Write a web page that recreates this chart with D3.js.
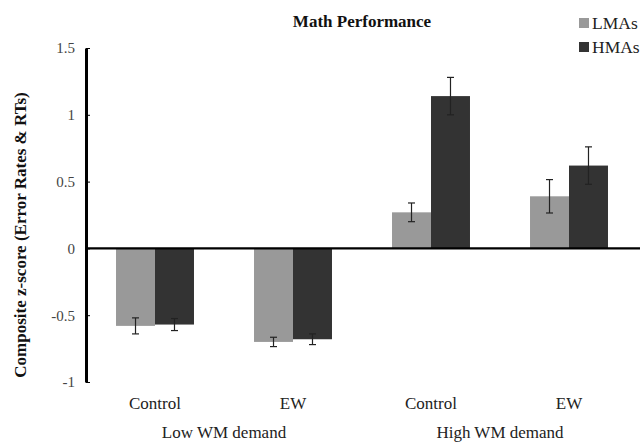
<!DOCTYPE html>
<html><head><meta charset="utf-8">
<script src="https://cdn.jsdelivr.net/npm/d3@7"></script>
<style>body{margin:0;background:#fff}svg{display:block}</style>
</head><body>
<script>
const categories = ["Control", "EW", "Control", "EW"];
const groups = ["Low WM demand", "High WM demand"];
const series = ["LMAs", "HMAs"];
const lmaValues = [-0.58, -0.70, 0.27, 0.39];
const hmaValues = [-0.57, -0.68, 1.14, 0.62];
const lmaErrors = [0.06, 0.035, 0.07, 0.125];
const hmaErrors = [0.045, 0.04, 0.14, 0.14];
const yTicks = [-1, -0.5, 0, 0.5, 1, 1.5];
const colors = ["#999999", "#333333"];

const W = 641, H = 442;
const FF = '"Liberation Serif"';
const svg = d3.select("body").append("svg").attr("width", W).attr("height", H);

const x = d3.scaleBand().domain(d3.range(categories.length)).range([86, 638]).paddingInner(0.435).paddingOuter(0.2175);
const y = d3.scaleLinear().domain([-1, 1.5]).range([382, 48]);
const xs = d3.scaleBand().domain(series).range([0, x.bandwidth()]);

// title
svg.append("text").attr("x", 362).attr("y", 27).attr("text-anchor", "middle").style("font-family", FF)
  .attr("font-weight", "bold").attr("font-size", 17).attr("fill", "#111").text("Math Performance");

// bars
const data = categories.map((c, i) => [
  {s: "LMAs", v: lmaValues[i], e: lmaErrors[i], i},
  {s: "HMAs", v: hmaValues[i], e: hmaErrors[i], i}
]).flat();

svg.append("g").selectAll("rect").data(data).join("rect")
  .attr("x", d => x(d.i) + xs(d.s))
  .attr("width", xs.bandwidth())
  .attr("y", d => y(Math.max(0, d.v)))
  .attr("height", d => Math.abs(y(d.v) - y(0)))
  .attr("fill", d => colors[series.indexOf(d.s)]);

// error bars
const eg = svg.append("g").attr("stroke", "#222").attr("stroke-width", 1.2);
data.forEach(d => {
  const cx = x(d.i) + xs(d.s) + xs.bandwidth() / 2;
  eg.append("line").attr("x1", cx).attr("x2", cx).attr("y1", y(d.v + d.e)).attr("y2", y(d.v - d.e));
  eg.append("line").attr("x1", cx - 3.5).attr("x2", cx + 3.5).attr("y1", y(d.v + d.e)).attr("y2", y(d.v + d.e));
  eg.append("line").attr("x1", cx - 3.5).attr("x2", cx + 3.5).attr("y1", y(d.v - d.e)).attr("y2", y(d.v - d.e));
});

// zero line
svg.append("line").attr("x1", 86).attr("x2", 640).attr("y1", y(0)).attr("y2", y(0))
  .attr("stroke", "#000").attr("stroke-width", 2.4);

// y axis
const yAxis = d3.axisLeft(y).tickValues(yTicks).tickSize(0).tickPadding(11).tickFormat(d => String(d));
const ga = svg.append("g").attr("transform", "translate(86,0)").call(yAxis);
ga.select(".domain").attr("stroke", "#000").attr("stroke-width", 3);
ga.selectAll("text").style("font-family", FF).attr("font-size", 15).attr("fill", "#444");
ga.selectAll(".tick").append("line").attr("x1", 0).attr("x2", 4).attr("stroke", "#000").attr("stroke-width", 1);

// y label
svg.append("text").attr("transform", "translate(26,235) rotate(-90)").attr("text-anchor", "middle")
  .style("font-family", FF).attr("font-weight", "bold").attr("font-size", 17).attr("fill", "#111")
  .text("Composite z-score (Error Rates & RTs)");

// category labels
svg.append("g").selectAll("text").data(categories).join("text")
  .attr("x", (d, i) => x(i) + x.bandwidth() / 2).attr("y", 409).attr("text-anchor", "middle")
  .style("font-family", FF).attr("font-size", 17).attr("fill", "#222").text(d => d);

svg.append("g").selectAll("text").data(groups).join("text")
  .attr("x", (d, g) => (x(g * 2) + x(g * 2 + 1) + x.bandwidth()) / 2).attr("y", 438).attr("text-anchor", "middle")
  .style("font-family", FF).attr("font-size", 17).attr("fill", "#222").text(d => d);

// legend
const lg = svg.append("g");
series.forEach((s, i) => {
  lg.append("rect").attr("x", 579).attr("y", 18 + i * 24).attr("width", 10).attr("height", 10).attr("fill", colors[i]);
  lg.append("text").attr("x", 592).attr("y", 29 + i * 24).style("font-family", FF).attr("font-size", 17.5)
    .attr("fill", "#222").text(s);
});
</script>
</body></html>
